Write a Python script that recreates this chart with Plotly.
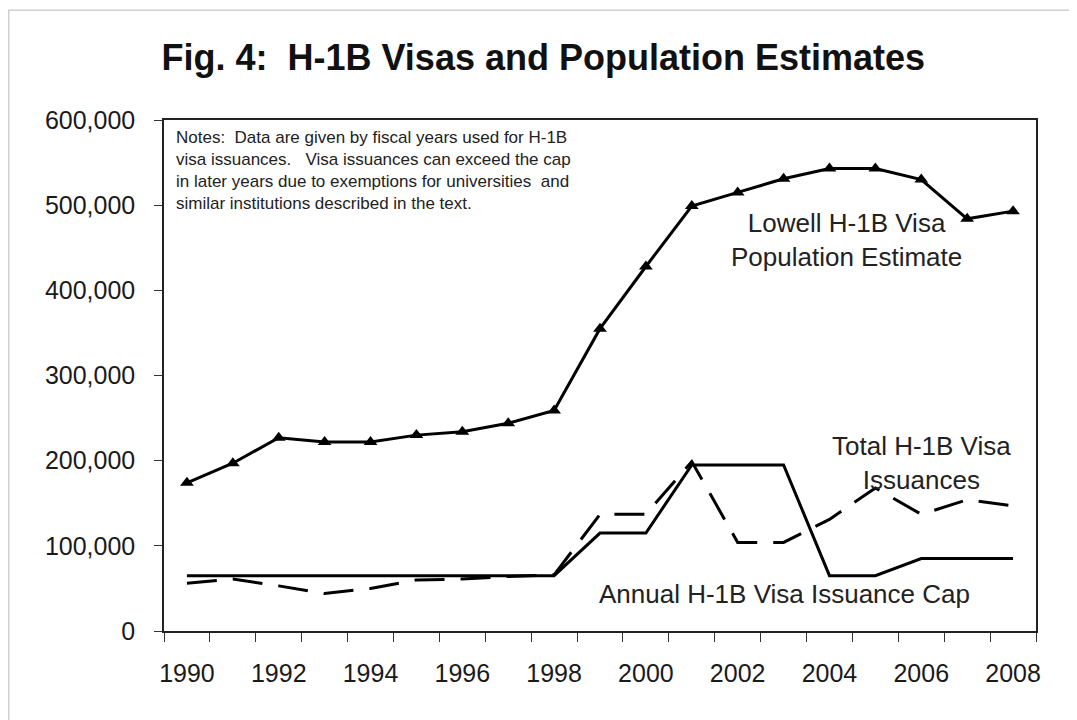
import plotly.graph_objects as go

years = list(range(1990, 2009))
lowell = [174000, 197000, 227000, 222000, 222000, 230000, 234000, 244000, 259000,
          355000, 428000, 499000, 515000, 531000, 543000, 543000, 530000, 484000, 493000]
total_issuances = [56000, 61000, 53000, 44000, 50000, 60000, 61000, 64000, 66000,
                   137000, 137000, 199000, 104000, 104000, 131000, 168000, 137000, 154000, 147000]
cap = [65000] * 9 + [115000, 115000, 195000, 195000, 195000, 65000, 65000, 85000, 85000, 85000]
xtick_vals = list(range(1990, 2009, 2))
ytick_vals = [0, 100000, 200000, 300000, 400000, 500000, 600000]

FONT = "Liberation Sans, Arial, sans-serif"

fig = go.Figure()
fig.add_trace(go.Scatter(x=years, y=cap, mode="lines",
                         line=dict(color="black", width=3), name="Cap"))
fig.add_trace(go.Scatter(x=years, y=total_issuances, mode="lines",
                         line=dict(color="black", width=3, dash="30px,16px"), name="Total"))
fig.add_trace(go.Scatter(x=years, y=lowell, mode="lines+markers",
                         line=dict(color="black", width=3),
                         marker=dict(symbol="triangle-up", size=12, color="black"),
                         name="Lowell"))

fig.update_layout(
    width=1077, height=720,
    margin=dict(l=156, r=49, t=112, b=97, autoexpand=False),
    paper_bgcolor="white", plot_bgcolor="white",
    showlegend=False,
    font=dict(family=FONT, color="#1a1a1a"),
    title=dict(text="<b>Fig. 4:  H-1B Visas and Population Estimates</b>",
               x=0.497, xanchor="center", y=0.932, yanchor="middle",
               font=dict(size=36, family=FONT, color="#111")),
    xaxis=dict(range=[1989.5, 2008.5], tickvals=xtick_vals, ticks="",
               showgrid=False, zeroline=False, showline=True, linecolor="#222",
               linewidth=1.5, mirror=True, tickfont=dict(size=25),
               minor=dict(tick0=1989.5, dtick=1, ticks="outside", ticklen=9,
                          tickcolor="#333", showgrid=False),
               ticklabelstandoff=19),
    yaxis=dict(range=[0, 600000], tickvals=ytick_vals, tickformat=",d",
               ticks="outside", ticklen=8, tickcolor="#333",
               showgrid=False, zeroline=False, showline=True, linecolor="#222",
               linewidth=1.5, mirror=True, tickfont=dict(size=25),
               ticklabelstandoff=14),
)

fig.add_annotation(xref="paper", yref="paper", x=0.011, y=0.988, xanchor="left", yanchor="top",
                   align="left", showarrow=False,
                   text="Notes:  Data are given by fiscal years used for H-1B<br>"
                        "visa issuances.   Visa issuances can exceed the cap<br>"
                        "in later years due to exemptions for universities  and<br>"
                        "similar institutions described in the text.",
                   font=dict(size=17, family=FONT, color="#222"))
fig.add_annotation(x=2004.38, y=459000, showarrow=False, align="center",
                   text="Lowell H-1B Visa<br>Population Estimate",
                   font=dict(size=26, family=FONT, color="#222"))
fig.add_annotation(x=2006.0, y=197000, showarrow=False, align="center",
                   text="Total H-1B Visa<br>Issuances",
                   font=dict(size=26, family=FONT, color="#222"))
fig.add_annotation(x=2003.03, y=43000, showarrow=False, align="center",
                   text="Annual H-1B Visa Issuance Cap",
                   font=dict(size=26, family=FONT, color="#222"))

fig.add_shape(type="rect", xref="paper", yref="paper", x0=-0.178, y0=-0.4, x1=1.2, y1=1.215,
              line=dict(color="#d0d0d0", width=1.5))

fig.write_html("out.html")
